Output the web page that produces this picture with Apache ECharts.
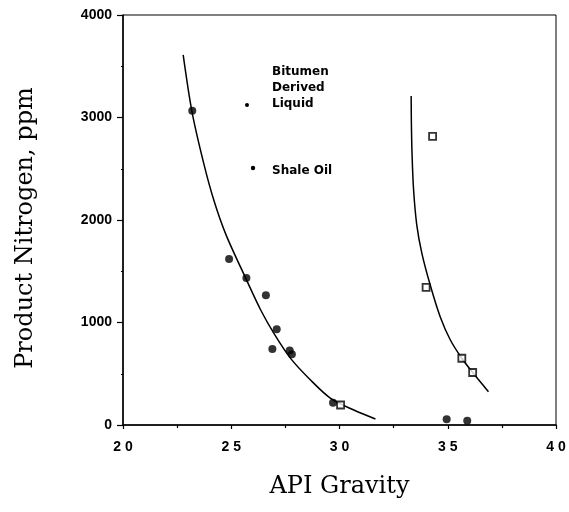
<!DOCTYPE html>
<html>
<head>
<meta charset="utf-8">
<script src="https://cdn.jsdelivr.net/npm/echarts@6/dist/echarts.min.js"></script>
<style>html,body{margin:0;padding:0;background:#fff;}#c{width:569px;height:512px;}</style>
</head>
<body>
<div id="c"></div>
<script>
// Data
var bitumenPoints = [[23.2,3065],[24.9,1620],[25.7,1435],[26.6,1265],[27.1,935],[26.9,742],[27.7,728],[27.8,690],[29.7,218],[34.95,55],[35.9,42]];
var shalePoints = [[30.05,195],[34.3,2815],[34.0,1342],[35.65,651],[36.15,512]];
var bitumenCurve = [[22.78,3610],[23.18,3063],[23.72,2560],[24.2,2190],[24.75,1860],[25.67,1431],[26.36,1122],[26.97,894],[27.74,650],[28.66,439],[29.59,260],[30.66,146],[31.66,59]];
var shaleCurve = [[33.31,3210],[33.32,2950],[33.35,2650],[33.42,2300],[33.57,1950],[33.8,1680],[34.19,1366],[34.65,1057],[35.12,829],[35.65,651],[36.18,504],[36.88,325]];
var xTicks = [20,25,30,35,40];
var xTickLabels = ['2 0','2 5','3 0','3 5','4 0'];
var yTicks = [0,1000,2000,3000,4000];
var yTickLabels = ['0','1000','2000','3000','4000'];
var legendItems = ['Bitumen\nDerived\nLiquid','Shale Oil'];

var chart = echarts.init(document.getElementById('c'));
chart.setOption({
  animation:false,
  backgroundColor:'#fff',
  grid:{left:123,right:13,top:15,bottom:87,show:true,borderColor:'#000',borderWidth:1,backgroundColor:'transparent'},
  xAxis:{
    type:'value',min:20,max:40,interval:5,
    name:'API Gravity',nameLocation:'middle',nameGap:50,
    nameTextStyle:{fontFamily:'DejaVu Serif',fontSize:24,color:'#000'},
    axisLine:{lineStyle:{color:'#000',width:1.5}},
    axisTick:{show:true,length:4,lineStyle:{color:'#000',width:1.2}},
    minorTick:{show:true,splitNumber:2,length:3,lineStyle:{color:'#000',width:1.2}},
    splitLine:{show:false},
    axisLabel:{margin:15,fontFamily:'Liberation Sans',fontWeight:'bold',fontSize:14,color:'#000',
      formatter:function(v){var i=xTicks.indexOf(v);return i>=0?xTickLabels[i]:'';}}
  },
  yAxis:{
    type:'value',min:0,max:4000,interval:1000,
    axisLine:{show:true,lineStyle:{color:'#000',width:1.5}},
    axisTick:{show:true,length:6,lineStyle:{color:'#000',width:1.2}},
    minorTick:{show:true,splitNumber:2,length:2,lineStyle:{color:'#000',width:1.2}},
    splitLine:{show:false},
    axisLabel:{margin:11,fontFamily:'Liberation Sans',fontWeight:'bold',fontSize:14,color:'#000',
      formatter:function(v){var i=yTicks.indexOf(v);return i>=0?yTickLabels[i]:'';}}
  },
  graphic:[
    {type:'text',x:26,y:228,rotation:Math.PI/2,style:{text:'Product Nitrogen, ppm',fontFamily:'DejaVu Serif',fontSize:24,fill:'#000',align:'center',verticalAlign:'middle'}},
    {type:'text',x:272,y:88,style:{text:legendItems[0],fontFamily:'DejaVu Sans',fontWeight:'bold',fontSize:12,lineHeight:16,fill:'#000',align:'left',verticalAlign:'middle'}},
    {type:'circle',shape:{cx:247,cy:105,r:2},style:{fill:'#000'}},
    {type:'text',x:272,y:171,style:{text:legendItems[1],fontFamily:'DejaVu Sans',fontWeight:'bold',fontSize:12,fill:'#000',align:'left',verticalAlign:'middle'}},
    {type:'circle',shape:{cx:253,cy:168,r:2.2},style:{fill:'#000'}}
  ],
  series:[
    {type:'line',data:bitumenCurve,smooth:0.3,showSymbol:false,symbol:'none',lineStyle:{color:'#000',width:1.5},z:2},
    {type:'line',data:shaleCurve,smooth:0.3,showSymbol:false,symbol:'none',lineStyle:{color:'#000',width:1.5},z:2},
    {type:'scatter',data:bitumenPoints,symbol:'circle',symbolSize:8,itemStyle:{color:'#000'},z:3},
    {type:'scatter',data:shalePoints,symbol:'rect',symbolSize:7,itemStyle:{color:'#fff',borderColor:'#000',borderWidth:1.8},z:3}
  ]
});
</script>
</body>
</html>
